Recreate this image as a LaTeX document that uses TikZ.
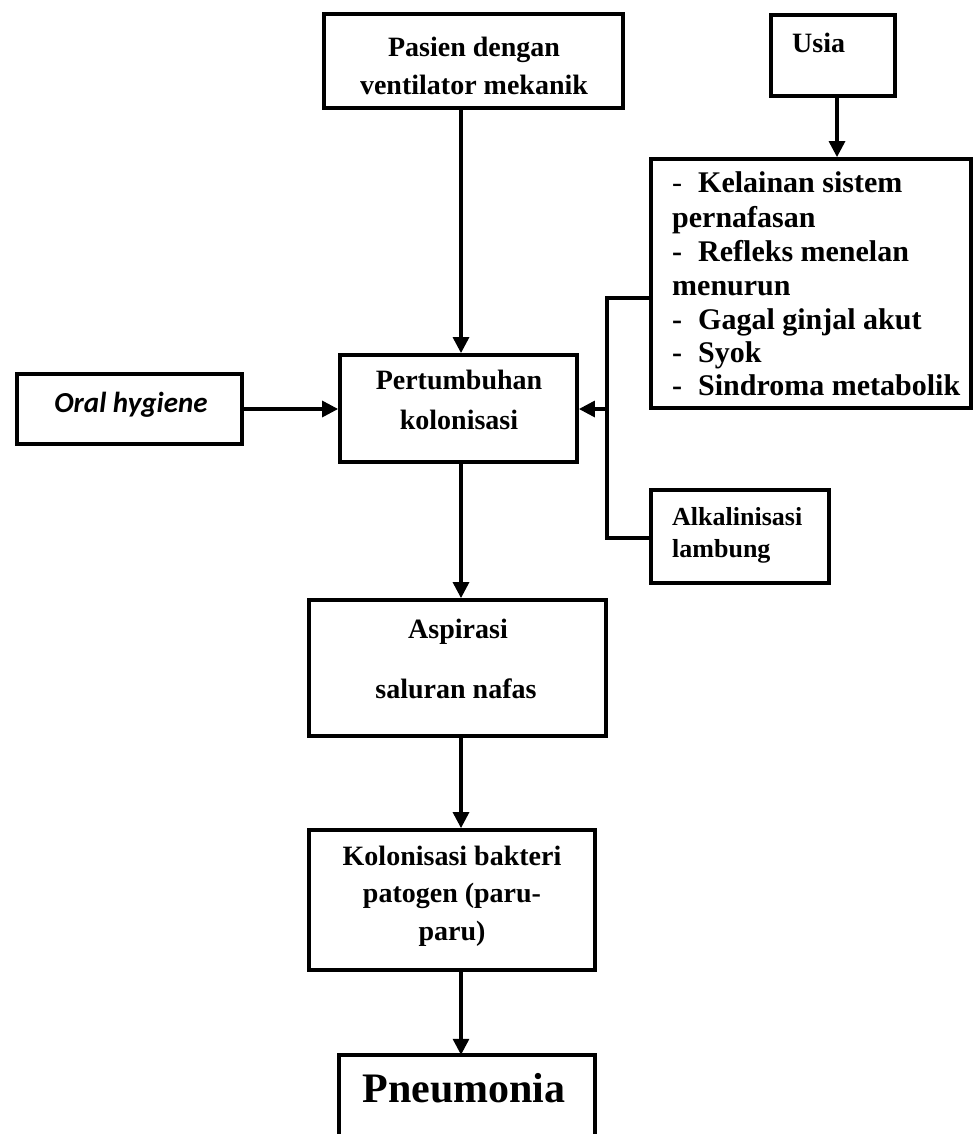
\documentclass[tikz,border=0pt]{standalone}
\usepackage{fontspec}
\setmainfont{Liberation Serif}
\newfontfamily\calfont{Carlito}
\usetikzlibrary{arrows.meta}
\begin{document}
\begin{tikzpicture}[x=1pt,y=-1pt,
  box/.style={draw, line width=3.8pt, inner sep=0pt, fill=white},
  arr/.style={line width=3.2pt, -{Triangle[length=16pt,width=16pt]}},
  conn/.style={line width=3.2pt},
  txt/.style={font=\fontsize{28}{33}\selectfont\bfseries, inner sep=0pt, anchor=base},
  ltxt/.style={font=\fontsize{30}{33}\selectfont\bfseries, inner sep=0pt, anchor=base west},
  utxt/.style={font=\fontsize{28}{33}\selectfont\bfseries, inner sep=0pt, anchor=base west},
  stxt/.style={font=\fontsize{26}{31}\selectfont\bfseries, inner sep=0pt, anchor=base west}]
\useasboundingbox (0,0) rectangle (974,1134);
\fill[white] (0,0) rectangle (974,1134);

% boxes
\node[box, minimum width=299pt, minimum height=94pt] (pasien) at (473.5,61) {};
\node[box, minimum width=124pt, minimum height=81pt] (usia) at (833,55.5) {};
\node[box, minimum width=320pt, minimum height=249pt] (list) at (811,283.5) {};
\node[box, minimum width=237pt, minimum height=107pt] (pert) at (458.5,408.5) {};
\node[box, minimum width=225pt, minimum height=70pt] (oral) at (129.5,409) {};
\node[box, minimum width=178pt, minimum height=93pt] (alk) at (740,536.5) {};
\node[box, minimum width=297pt, minimum height=136pt] (asp) at (457.5,668) {};
\node[box, minimum width=286pt, minimum height=140pt] (kol) at (452,900) {};
\node[inner sep=0pt, minimum width=256pt, minimum height=158pt] (pneu) at (467,1134) {};
\draw[line width=3.8pt] (pneu.south west) -- (pneu.west) -- (pneu.north west) -- (pneu.north east) -- (pneu.east) -- (pneu.south east);

% texts
\node[txt] (t1) at (474,57) {Pasien dengan};
\node[txt] (t2) at (474,95) {ventilator mekanik};
\node[utxt] (t3) at (792,53) {Usia};
\node[ltxt] (l1) at (672,193) {\makebox[26pt][l]{\mdseries -}Kelainan sistem};
\node[ltxt] (l2) at (672,227) {pernafasan};
\node[ltxt] (l3) at (672,261) {\makebox[26pt][l]{-}Refleks menelan};
\node[ltxt] (l4) at (672,295) {menurun};
\node[ltxt] (l5) at (672,329) {\makebox[26pt][l]{-}Gagal ginjal akut};
\node[ltxt] (l6) at (672,362) {\makebox[26pt][l]{-}Syok};
\node[ltxt] (l7) at (672,395) {\makebox[26pt][l]{-}Sindroma metabolik};
\node[txt] (p1) at (459,389) {Pertumbuhan};
\node[txt] (p2) at (459,429) {kolonisasi};
\node[txt, font=\fontsize{29}{34}\selectfont\calfont\bfseries\itshape] (o1) at (131,412) {Oral hygiene};
\node[stxt] (a1) at (672,525) {Alkalinisasi};
\node[stxt] (a2) at (672,557) {lambung};
\node[txt] (s1) at (458,638) {Aspirasi};
\node[txt] (s2) at (456,698) {saluran nafas};
\node[txt] (k1) at (452,865) {Kolonisasi bakteri};
\node[txt] (k2) at (452,902) {patogen (paru-};
\node[txt] (k3) at (452,940) {paru)};
\node[txt, font=\fontsize{42}{48}\selectfont\bfseries] (n1) at (464,1102) {Pneumonia};

% connectors
\coordinate (mx) at (461,0);
\coordinate (ux) at (837,0);
\coordinate (jt) at (607,298);
\coordinate (jm) at (607,409);
\coordinate (jb) at (607,538);
\draw[arr] (pasien.south -| mx) -- (pert.north -| mx);
\draw[arr] (pert.south -| mx) -- (asp.north -| mx);
\draw[arr] (asp.south -| mx) -- (kol.north -| mx);
\draw[arr] (kol.south -| mx) -- (pneu.north -| mx);
\draw[arr] (usia.south -| ux) -- (list.north -| ux);
\draw[arr] (oral.east) -- (pert.west |- oral.east);
\draw[conn] (list.west |- jt) -- (jt) -- (jb) -- (alk.west |- jb);
\draw[arr] (jm) -- (pert.east |- jm);
\end{tikzpicture}
\end{document}
